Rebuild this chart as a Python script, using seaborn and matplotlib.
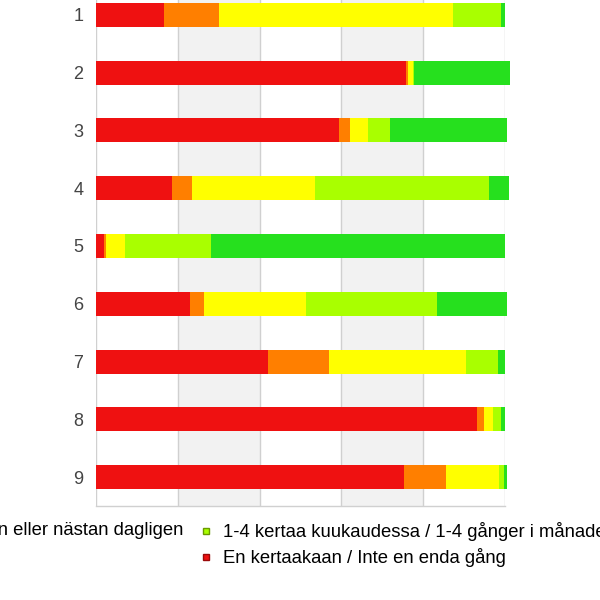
import matplotlib
matplotlib.use("Agg")
import matplotlib.pyplot as plt
from matplotlib.lines import Line2D
import seaborn as sns
import numpy as np
import pandas as pd

categories = ["1", "2", "3", "4", "5", "6", "7", "8", "9"]
red_vals = [16.6, 75.8, 59.4, 18.6, 2.0, 23.0, 42.1, 93.2, 75.3]
orange_vals = [13.4, 0.4, 2.7, 4.9, 0.5, 3.4, 14.9, 1.7, 10.3]
yellow_vals = [57.2, 1.3, 4.4, 30.1, 4.6, 24.9, 33.5, 2.2, 13.0]
yellowgreen_vals = [11.7, 0.2, 5.4, 42.5, 21.0, 32.0, 7.8, 2.0, 1.2]
green_vals = [1.0, 23.5, 28.6, 4.9, 71.9, 17.1, 1.7, 1.0, 0.7]

series_values = [red_vals, orange_vals, yellow_vals, yellowgreen_vals, green_vals]
colors = ["#ef1111", "#ff7f00", "#ffff00", "#a9ff00", "#26e01e"]

legend_left_label = "Päivittäin tai lähes päivittäin / Dagligen eller nästan dagligen"
legend_labels = ["1-4 kertaa kuukaudessa / 1-4 gånger i månaden",
                 "En kertaakaan / Inte en enda gång"]

sns.set_theme(style="white")
plt.rcParams["font.family"] = ["Liberation Sans", "DejaVu Sans"]

fig = plt.figure(figsize=(6, 6), dpi=100)
ax = fig.add_axes([96 / 600, (600 - 506) / 600, 409 / 600, 520 / 600])

cum = np.zeros(len(categories))
cums = []
for vals in series_values:
    cum = cum + np.array(vals)
    cums.append(cum.copy())

# draw from the longest cumulative (green) down to red
for i in range(len(series_values) - 1, -1, -1):
    d = pd.DataFrame({"cat": categories, "val": cums[i]})
    sns.barplot(data=d, x="val", y="cat", orient="h", color=colors[i],
                width=0.415, saturation=1, ax=ax, zorder=3, linewidth=0)
for p in ax.patches:
    p.set_clip_on(False)

ax.set_xlim(0, 100)
ax.set_ylim(8.5, -0.5)
for a, b in [(20, 40), (60, 80)]:
    ax.axvspan(a, b, color="#f2f2f2", zorder=0, lw=0)
for x in [0, 20, 40, 60, 80, 100]:
    ax.axvline(x, color="#d0d0d0", lw=1, zorder=1)
for s in ["top", "right", "left"]:
    ax.spines[s].set_visible(False)
ax.spines["bottom"].set_color("#d0d0d0")
ax.spines["bottom"].set_linewidth(1)
ax.set_xticks([])
ax.set_xlabel("")
ax.set_ylabel("")
ax.tick_params(axis="y", length=0, pad=9, labelsize=13, labelcolor="#444444")

fs = 13.3
h_left = [Line2D([], [], marker="s", linestyle="none", markersize=5,
                 markerfacecolor=colors[4], markeredgecolor="#1a9a1a")]
fig.legend(h_left, [legend_left_label], loc="upper right",
           bbox_to_anchor=(183 / 600, 1 - 522 / 600), frameon=False,
           borderpad=0, borderaxespad=0, handlelength=0.5, handletextpad=0.75,
           fontsize=fs, labelcolor="black")

handles = [Line2D([], [], marker="s", linestyle="none", markersize=5,
                  markerfacecolor=colors[3], markeredgecolor="#6a9a00"),
           Line2D([], [], marker="s", linestyle="none", markersize=5,
                  markerfacecolor=colors[0], markeredgecolor="#9a0a0a")]
fig.legend(handles, legend_labels, loc="upper left",
           bbox_to_anchor=(201.5 / 600, 1 - 522 / 600), frameon=False,
           borderpad=0, borderaxespad=0, handlelength=0.5, handletextpad=0.65,
           labelspacing=0.4, fontsize=fs, labelcolor="black")

fig.savefig("out.png", dpi=100)
